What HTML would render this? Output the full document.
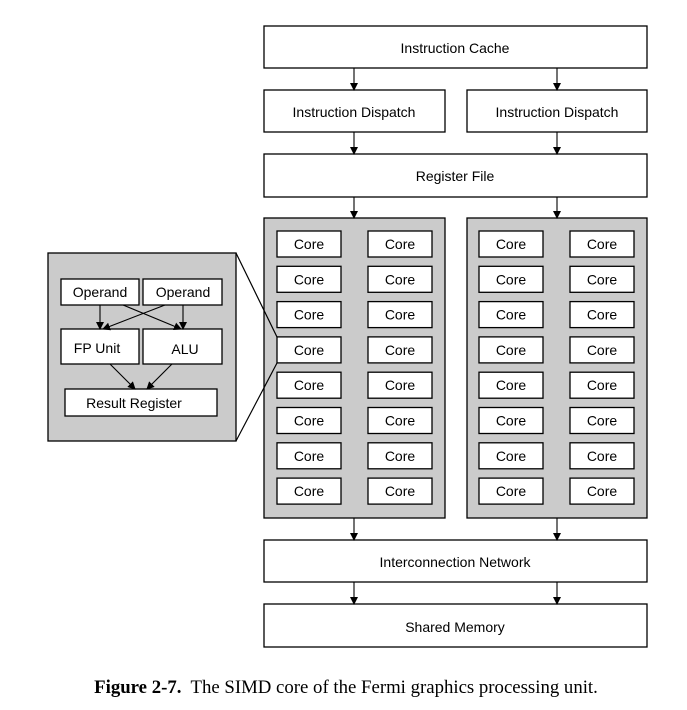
<!DOCTYPE html>
<html><head><style>body{margin:0;background:#fff}svg{display:block}</style></head><body>
<svg width="687" height="710" xmlns="http://www.w3.org/2000/svg" font-family="Liberation Sans, Arial, sans-serif">
<defs><marker id="a" markerWidth="8" markerHeight="10" refX="7" refY="5" orient="auto" markerUnits="userSpaceOnUse"><path d="M0,1 L8,5 L0,9 Z" fill="#000"/></marker></defs>
<g stroke="#000" stroke-width="1.3" fill="#fff">
<rect x="264" y="26" width="383" height="42"/>
<rect x="264" y="90" width="181" height="42"/>
<rect x="467" y="90" width="180" height="42"/>
<rect x="264" y="154" width="383" height="43"/>
<rect x="264" y="218" width="181" height="300" fill="#cbcbcb"/>
<rect x="467" y="218" width="180" height="300" fill="#cbcbcb"/>
<rect x="264" y="540" width="383" height="42"/>
<rect x="264" y="604" width="383" height="43"/>
<rect x="48" y="253" width="188" height="188" fill="#cbcbcb"/>
<rect x="61" y="279" width="78" height="26"/>
<rect x="143" y="279" width="79" height="26"/>
<rect x="61" y="329" width="78" height="35"/>
<rect x="143" y="329" width="79" height="35"/>
<rect x="65" y="389" width="152" height="27"/>
</g>
<g id="cores" stroke="#000" stroke-width="1.3" fill="#fff"></g>
<g stroke="#000" stroke-width="1.1" fill="none" marker-end="url(#a)">
<line x1="354" y1="68" x2="354" y2="90"/><line x1="557" y1="68" x2="557" y2="90"/>
<line x1="354" y1="132" x2="354" y2="154"/><line x1="557" y1="132" x2="557" y2="154"/>
<line x1="354" y1="197" x2="354" y2="218"/><line x1="557" y1="197" x2="557" y2="218"/>
<line x1="354" y1="518" x2="354" y2="540"/><line x1="557" y1="518" x2="557" y2="540"/>
<line x1="354" y1="582" x2="354" y2="604"/><line x1="557" y1="582" x2="557" y2="604"/>
<line x1="100" y1="305" x2="100" y2="329"/><line x1="183" y1="305" x2="183" y2="329"/>
<line x1="123" y1="305" x2="181" y2="329"/><line x1="165" y1="305" x2="103" y2="329"/>
<line x1="110" y1="364" x2="135" y2="389"/><line x1="172" y1="364" x2="147" y2="389"/>
</g>
<g stroke="#000" stroke-width="1.2"><line x1="236" y1="253" x2="277" y2="337"/><line x1="236" y1="441" x2="277" y2="363"/></g>
<g font-size="14" text-anchor="middle" fill="#000">
<text x="455" y="53">Instruction Cache</text>
<text x="354" y="117">Instruction Dispatch</text>
<text x="557" y="117">Instruction Dispatch</text>
<text x="455" y="181">Register File</text>
<text x="455" y="567">Interconnection Network</text>
<text x="455" y="632">Shared Memory</text>
<text x="100" y="297">Operand</text>
<text x="183" y="297">Operand</text>
<text x="97" y="353">FP Unit</text>
<text x="185" y="354">ALU</text>
<text x="134" y="408">Result Register</text>
</g>
<text x="346" y="693" font-family="Liberation Serif, serif" font-size="18.8" text-anchor="middle"><tspan font-weight="bold">Figure 2-7.</tspan>&#160; The SIMD core of the Fermi graphics processing unit.</text>
<g id="ct" font-size="14" text-anchor="middle"></g>
<script>
var g=document.getElementById('cores'),t=document.getElementById('ct'),ns='http://www.w3.org/2000/svg';
[277,368,479,570].forEach(function(x){for(var i=0;i<8;i++){var y=231+i*35.3;
var r=document.createElementNS(ns,'rect');r.setAttribute('x',x);r.setAttribute('y',y);r.setAttribute('width',64);r.setAttribute('height',26);g.appendChild(r);
var s=document.createElementNS(ns,'text');s.setAttribute('x',x+32);s.setAttribute('y',y+18);s.textContent='Core';t.appendChild(s);}});
</script>
</svg>
</body></html>
